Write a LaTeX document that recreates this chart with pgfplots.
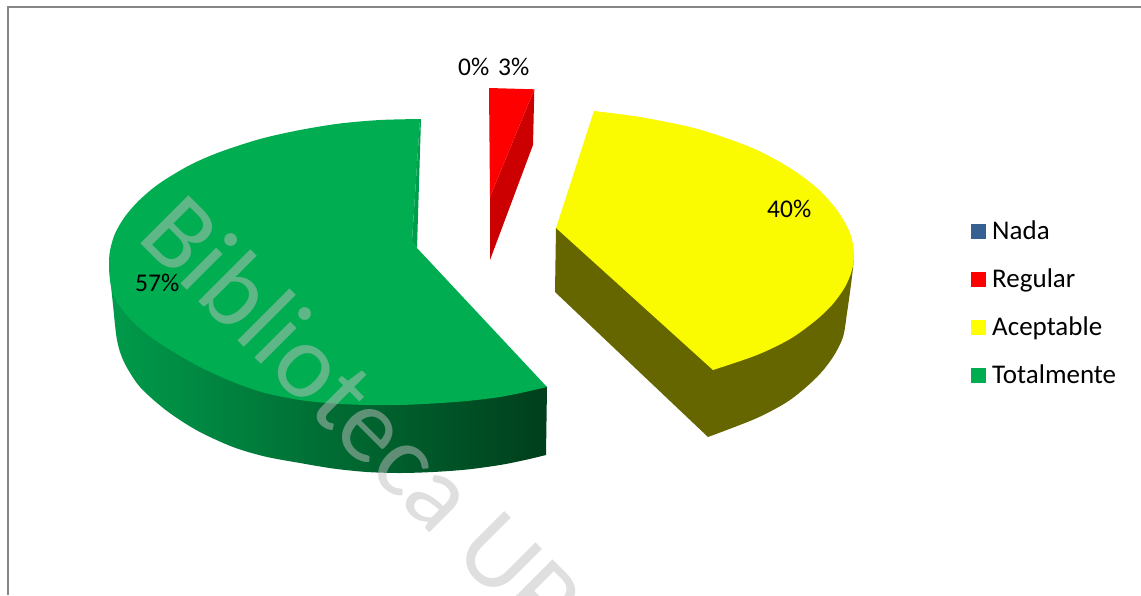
\documentclass[border=0pt]{standalone}
\usepackage{pgfplots}
\pgfplotsset{compat=1.18}
\usepackage{fontspec}
\setmainfont{Carlito}
\newfontfamily\wm{Carlito}
\definecolor{gtop}{RGB}{0,173,80}
\definecolor{gwall}{RGB}{0,158,76}
\definecolor{gl}{RGB}{0,155,75}
\definecolor{gm}{RGB}{0,112,52}
\definecolor{gd}{RGB}{0,62,28}
\definecolor{ytop}{RGB}{250,250,0}
\definecolor{yside}{RGB}{102,102,0}
\definecolor{rtop}{RGB}{255,0,0}
\definecolor{rside}{RGB}{204,0,0}
\definecolor{nada}{RGB}{55,96,146}
\definecolor{frame}{RGB}{134,134,134}
\begin{document}
\begin{tikzpicture}
\path[use as bounding box,clip] (0,0) rectangle (1141pt,595pt);
\begin{axis}[at={(0,0)},anchor=south west,scale only axis,width=1141pt,height=595pt,
  xmin=0,xmax=1141,ymin=0,ymax=595,y dir=reverse,hide axis,clip=false]
% frame
\addplot[frame,line width=2pt] coordinates {(1141,7)(8,7)(8,595)};
% green side
\addplot[draw=none,smooth,left color=gl,middle color=gm,right color=gd,forget plot] coordinates {
(109,265)(113,305)(117,340)(124,362)(140,387)(167,411)(198,431)(233,447)(265,456.5)(300,463)(333,468.5)(367,472)(400,473)(433,472)(467,469.5)(500,465)(525,460)(546,455)}
 -- (axis cs:547,387) -- (axis cs:300,300) -- cycle;
% green top
\addplot[draw=none,smooth,fill=gtop,forget plot] coordinates {
(420,119)(380,120)(340,123.5)(300,130)(260,139)(220,152)(190,165)(160,183)(140,199.5)(125,216.5)(115,233.6)(110,250.6)(109,265)
(110,280)(113,294)(121,308)(133,322)(148,335)(167,348)(198,366)(233,382)(265,393)(300,400)(333,403.5)(367,405)(400,405)(433,403.5)(467,401)(500,397)(525,392)(547,387)}
 -- (axis cs:417,248) -- (axis cs:412,241) -- cycle;
\addplot[draw=none,fill=gwall,forget plot] coordinates {(420,119)(421,119)(417,248)(412,241)} -- cycle;
% red
\addplot[draw=none,fill=rside,forget plot] coordinates {(534.3,89.3)(533,145)(490,260)(490,197)} -- cycle;
\addplot[draw=none,fill=rtop,forget plot] coordinates {(489,88)(534.3,89.3)(490,197)} -- cycle;
% yellow
\addplot[draw=none,smooth,fill=yside,forget plot] coordinates {(854,253)(853,268)(850,292)(847,313)(843,337)(833,357)(817,377)(790,400)(757,418)(708,437)}
 -- (axis cs:555,292) -- (axis cs:556,228) -- (axis cs:800,280) -- cycle;
\addplot[draw=none,smooth,fill=ytop,forget plot] coordinates {
(594,111)(640,117)(690,127)(723,137)(757,150)(790,168)(817,188)(837,210)(850,233)(854,253)(852,270)(845,287)(832,305)(815,321)(790,339)(757,355)(713,370)}
 -- (axis cs:556,228) -- cycle;
% legend keys
\addplot[draw=none,fill=nada,forget plot] coordinates {(971,224)(986,224)(986,239)(971,239)} -- cycle;
\addplot[draw=none,fill=rtop,forget plot] coordinates {(971,272)(986,272)(986,287)(971,287)} -- cycle;
\addplot[draw=none,fill={rgb,255:red,255;green,255;blue,0},forget plot] coordinates {(971,320)(986,320)(986,335)(971,335)} -- cycle;
\addplot[draw=none,fill=gtop,forget plot] coordinates {(971,368)(986,368)(986,383)(971,383)} -- cycle;
% text
\def\fs{\fontsize{25.5}{28}\selectfont}
\def\fl{\fontsize{27}{28}\selectfont}
\node[anchor=base west,inner sep=0pt] at (axis cs:992,239) {\fl Nada};
\node[anchor=base west,inner sep=0pt] at (axis cs:992,287) {\fl Regular};
\node[anchor=base west,inner sep=0pt] at (axis cs:992,335) {\fl Aceptable};
\node[anchor=base west,inner sep=0pt] at (axis cs:992,383) {\fl Totalmente};
\node[anchor=base west,inner sep=0pt] at (axis cs:458,75) {\fs 0\%};
\node[anchor=base west,inner sep=0pt] at (axis cs:498,75) {\fs 3\%};
\node[anchor=base west,inner sep=0pt] at (axis cs:767,217) {\fs 40\%};
\node[anchor=base west,inner sep=0pt] at (axis cs:135,291) {\fs 57\%};
% watermark
\node[anchor=base west,inner sep=0pt,rotate=-45,text=gray!50,text opacity=0.5] at (axis cs:135,238)
 {\wm\fontsize{106}{110}\selectfont Biblioteca UP};
\end{axis}
\end{tikzpicture}
\end{document}
